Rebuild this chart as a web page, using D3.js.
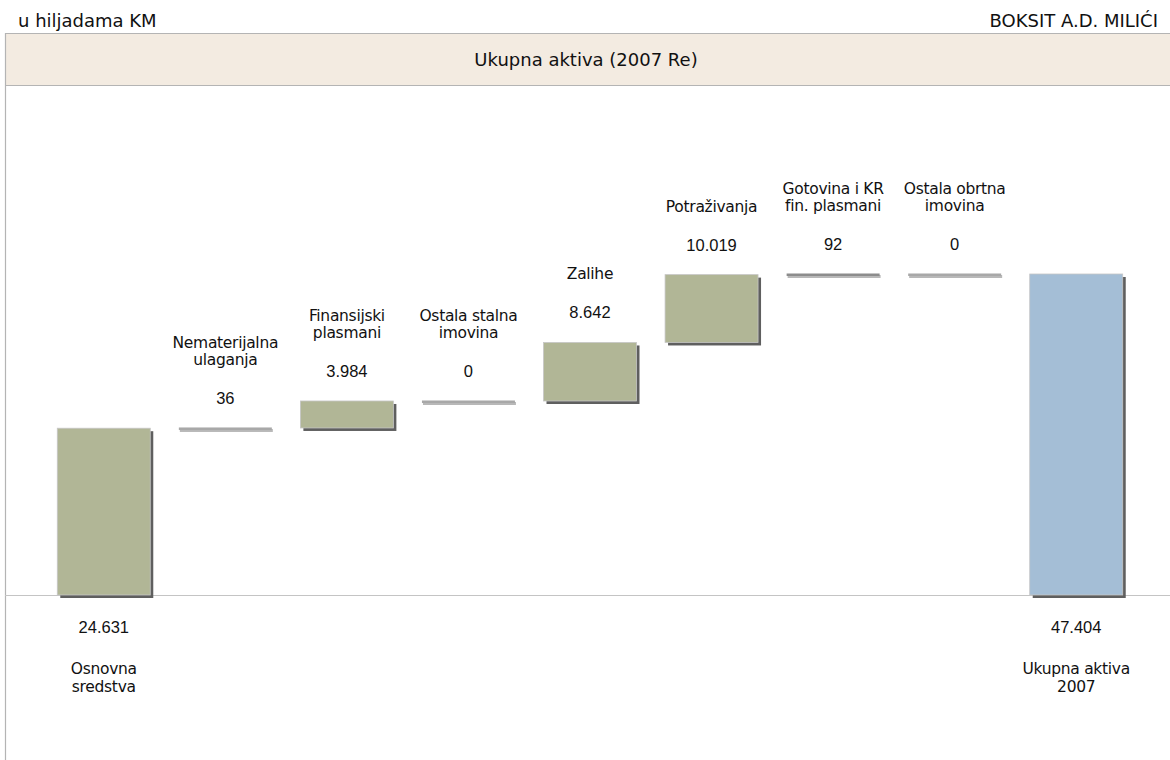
<!DOCTYPE html>
<html>
<head>
<meta charset="utf-8">
<script src="https://cdn.jsdelivr.net/npm/d3@7/dist/d3.min.js"></script>
<style>
  body { margin: 0; background: #fff; }
  text { fill: #111; }
</style>
</head>
<body>
<script>
// values in thousands of KM
var categories = [
  ["Osnovna", "sredstva"],
  ["Nematerijalna", "ulaganja"],
  ["Finansijski", "plasmani"],
  ["Ostala stalna", "imovina"],
  ["Zalihe"],
  ["Potraživanja"],
  ["Gotovina i KR", "fin. plasmani"],
  ["Ostala obrtna", "imovina"],
  ["Ukupna aktiva", "2007"]
];
var values = [24631, 36, 3984, 0, 8642, 10019, 92, 0, 47404];
var kinds = ["start", "step", "step", "step", "step", "step", "step", "step", "total"];

var width = 1170, height = 760;
var fmt = d3.formatLocale({ decimal: ",", thousands: ".", grouping: [3], currency: ["", ""] }).format(",d");

var svg = d3.select("body").append("svg")
  .attr("width", width)
  .attr("height", height);

/*
 * header + panel
 */
svg.append("text")
  .attr("x", 18).attr("y", 27)
  .style("font-family", "DejaVu Sans").style("font-size", "18px")
  .text("u hiljadama KM");

svg.append("text")
  .attr("x", 1158).attr("y", 27)
  .attr("text-anchor", "end")
  .style("font-family", "DejaVu Sans").style("font-size", "18px")
  .text("BOKSIT A.D. MILIĆI");

svg.append("rect")
  .attr("x", 5).attr("y", 33)
  .attr("width", width).attr("height", 52)
  .style("fill", "#F3EBE1");

svg.append("path")
  .attr("d", "M5.5," + height + "V33.5H" + width + "M5,85.5H" + width)
  .style("fill", "none")
  .style("stroke", "#b4b4b4")
  .style("stroke-width", 1.2);

svg.append("text")
  .attr("x", 586).attr("y", 66)
  .attr("text-anchor", "middle")
  .style("font-family", "DejaVu Sans").style("font-size", "18px")
  .text("Ukupna aktiva (2007 Re)");

/*
 * waterfall data
 */
var running = 0;
var steps = values.map(function(v, i) {
  var from, to;
  if (kinds[i] === "total") { from = 0; to = v; }
  else { from = running; to = running + v; running = to; }
  return { i: i, value: v, from: from, to: to, kind: kinds[i], name: categories[i] };
});

var x = d3.scaleBand()
  .domain(d3.range(categories.length))
  .range([43, 1137])
  .paddingInner(0.235)
  .paddingOuter(0.1175);

var y = d3.scaleLinear()
  .domain([0, 47404])
  .range([595, 274]);

// baseline
svg.append("line")
  .attr("x1", 5).attr("x2", width)
  .attr("y1", y(0) + 0.5).attr("y2", y(0) + 0.5)
  .style("stroke", "#c4c4c4")
  .style("stroke-width", 1.2);

var defs = svg.append("defs");
defs.append("filter").attr("id", "blur")
  .append("feGaussianBlur").attr("stdDeviation", 0.6);

var bars = svg.selectAll(".bar")
  .data(steps)
  .enter()
  .append("g")
  .attr("class", "bar");

bars.each(function(d) {
  var g = d3.select(this);
  var x0 = x(d.i), w = x.bandwidth();
  var top = y(d.to), h = y(d.from) - y(d.to);
  if (h < 2) {
    // flat marker for tiny / zero values
    g.append("rect")
      .attr("x", x0 + 1).attr("y", top + 1)
      .attr("width", w).attr("height", 3)
      .style("fill", "#b8b8b8")
      .attr("filter", "url(#blur)");
    g.append("rect")
      .attr("x", x0).attr("y", top - 0.5)
      .attr("width", w).attr("height", 2.5)
      .style("fill", d.value > 50 ? "#8c8c8c" : "#a8a8a8");
    return;
  }
  g.append("rect")
    .attr("x", x0 + 3).attr("y", top + 3)
    .attr("width", w).attr("height", h)
    .style("fill", "#5e5e5e")
    .attr("filter", "url(#blur)");
  g.append("rect")
    .attr("x", x0).attr("y", top)
    .attr("width", w).attr("height", h)
    .style("fill", d.kind === "total" ? "#A4BED6" : "#B1B696")
    .style("stroke", "#c6c6c6")
    .style("stroke-width", 0.8);
});

/*
 * labels
 */
bars.each(function(d) {
  var g = d3.select(this);
  var cx = x(d.i) + x.bandwidth() / 2;
  var below = d.kind !== "step";
  var valueY = below ? y(0) + 38 : y(d.to) - 24;

  g.append("text")
    .attr("x", cx).attr("y", valueY)
    .attr("text-anchor", "middle")
    .style("font-family", "Liberation Sans, Arial").style("font-size", "16.5px")
    .text(fmt(d.value));

  var n = d.name.length;
  g.selectAll(".name")
    .data(d.name)
    .enter()
    .append("text")
    .attr("class", "name")
    .attr("x", cx)
    .attr("y", function(t, j) {
      if (below) return valueY + 41 + j * 18;
      return valueY - 39 - (n - 1 - j) * 17;
    })
    .attr("text-anchor", "middle")
    .style("font-family", "DejaVu Sans").style("font-size", "15.5px")
    .style("letter-spacing", "-0.3px")
    .text(function(t) { return t; });
});
</script>
</body>
</html>
